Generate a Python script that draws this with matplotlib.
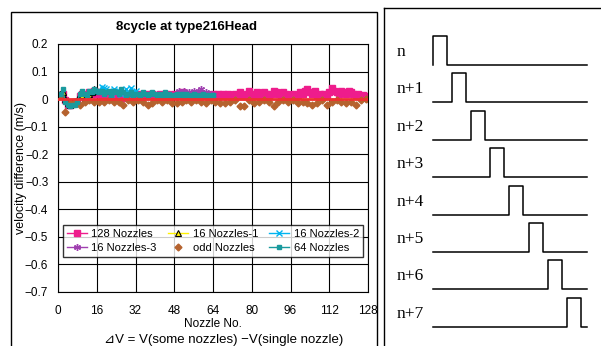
import numpy as np
import matplotlib
matplotlib.use("Agg")
import matplotlib.pyplot as plt
from matplotlib.patches import Rectangle

plt.rcParams['font.family'] = ['Liberation Sans', 'DejaVu Sans', 'Noto Sans CJK JP']

# データ
v128 = [0.015, 0.02, -0.005, -0.02, -0.02, -0.015, -0.01, -0.01,
        0.01, 0.02, 0.015, 0.01, 0.025, 0.02, 0.03, 0.025,
        0.02, 0.015, 0.01, 0.02, 0.01, 0.005, 0.015, 0.01,
        0.02, 0.01, 0.005, 0.015, 0.01, 0.02, 0.01, 0.015,
        0.01, 0.02, 0.015, 0.01, 0.02, 0.015, 0.02, 0.01,
        0.015, 0.02, 0.01, 0.015, 0.02, 0.015, 0.01, 0.02,
        0.015, 0.02, 0.025, 0.015, 0.02, 0.01, 0.02, 0.015,
        0.02, 0.015, 0.01, 0.02, 0.015, 0.01, 0.015, 0.02,
        0.015, 0.02, 0.01, 0.02, 0.015, 0.02, 0.01, 0.015,
        0.02, 0.015, 0.025, 0.01, 0.015, 0.02, 0.03, 0.02,
        0.015, 0.025, 0.02, 0.01, 0.025, 0.02, 0.015, 0.02,
        0.03, 0.025, 0.02, 0.015, 0.025, 0.02, 0.01, 0.015,
        0.02, 0.01, 0.015, 0.025, 0.02, 0.03, 0.035, 0.025,
        0.02, 0.03, 0.015, 0.02, 0.01, 0.02, 0.015, 0.025,
        0.04, 0.03, 0.025, 0.02, 0.03, 0.025, 0.02, 0.03,
        0.025, 0.02, 0.015, 0.02, 0.01, 0.015, 0.01, 0.005]
x128 = np.arange(1, 129)

v16_1 = [0.02, 0.025, 0.0, -0.015, -0.02, -0.01, -0.015, -0.005,
         0.02, 0.015, 0.005, 0.01, 0.02, 0.025, 0.035, 0.03]
x16_1 = np.arange(1, 17)

v16_2 = [0.03, 0.045, 0.04, 0.035, 0.03, 0.02, 0.035, 0.025,
         0.03, 0.02, 0.025, 0.035, 0.02, 0.04, 0.025, 0.03]
x16_2 = np.arange(17, 33)

v16_3 = [0.02, 0.03, 0.025, 0.03, 0.02, 0.025, 0.015, 0.03,
         0.02, 0.025, 0.035, 0.02, 0.025, 0.015, 0.02, 0.015]
x16_3 = np.arange(49, 65)

v_odd = [0.01, -0.045, -0.015, -0.01, -0.02, -0.01, -0.005, -0.01,
         -0.01, -0.01, -0.005, -0.01, -0.01, -0.02, -0.005, -0.01,
         -0.005, -0.01, -0.02, -0.015, -0.005, -0.01, -0.005, -0.015,
         -0.015, -0.01, -0.005, -0.01, -0.005, -0.01, -0.015, -0.005,
         -0.01, -0.015, -0.015, -0.01, -0.005, -0.025, -0.025, -0.005,
         -0.015, -0.01, -0.005, -0.01, -0.025, -0.01, -0.005, -0.01,
         -0.005, -0.015, -0.01, -0.015, -0.02, -0.015, -0.005, -0.02,
         -0.01, -0.005, -0.01, -0.015, -0.01, -0.02, -0.005, 0.0]
x_odd = np.arange(1, 129, 2)

v64 = [0.02, 0.035, -0.01, -0.02, -0.025, -0.02, -0.02, -0.01,
       0.02, 0.03, 0.02, 0.015, 0.03, 0.025, 0.035, 0.03,
       0.025, 0.03, 0.02, 0.025, 0.03, 0.015, 0.03, 0.025,
       0.02, 0.035, 0.025, 0.015, 0.02, 0.025, 0.015, 0.02,
       0.02, 0.015, 0.025, 0.02, 0.015, 0.02, 0.025, 0.02,
       0.015, 0.02, 0.01, 0.025, 0.015, 0.02, 0.01, 0.015,
       0.02, 0.015, 0.02, 0.01, 0.02, 0.015, 0.01, 0.02,
       0.015, 0.01, 0.015, 0.02, 0.01, 0.015, 0.01, 0.015]
x64 = np.arange(1, 65)

yticks = [-0.7, -0.6, -0.5, -0.4, -0.3, -0.2, -0.1, 0, 0.1, 0.2]
ytick_labels = ["\u22120.7", "\u22120.6", "\u22120.5", "\u22120.4", "\u22120.3",
                "\u22120.2", "\u22120.1", "0", "0.1", "0.2"]
pulse_labels = ["n", "n+1", "n+2", "n+3", "n+4", "n+5", "n+6", "n+7"]

fig = plt.figure(figsize=(6.01, 3.46), dpi=100)

# 外枠
fig.patches.append(Rectangle((11 / 601, -0.05), 366 / 601, 1.05 - 12 / 346,
                             transform=fig.transFigure, fill=False,
                             edgecolor='black', lw=1.0))

ax = fig.add_axes([58 / 601, 1 - 292 / 346, 310 / 601, 248 / 346])
l128, = ax.plot(x128, v128, color='#EE1C8C', marker='s', ms=4, lw=1, label='128 Nozzles')
l1, = ax.plot(x16_1, v16_1, color='#FFF200', marker='^', ms=4, mfc='#FFF200',
              mec='black', mew=0.8, lw=1, label='16 Nozzles-1')
l2, = ax.plot(x16_2, v16_2, color='#00B4F0', marker='x', ms=4.5, mew=1, lw=1, label='16 Nozzles-2')
l3, = ax.plot(x16_3, v16_3, color='#A040B0', marker=(6, 2, 0), ms=5, mew=1, lw=1, label='16 Nozzles-3')
lodd, = ax.plot(x_odd, v_odd, color='#B5622E', marker='D', ms=3.5, lw=0, label='odd Nozzles')
l64, = ax.plot(x64, v64, color='#1A9A9E', marker='s', ms=3.5, lw=1, label='64 Nozzles')
ax.axhline(0, color='#F03030', lw=2, zorder=5)

ax.set_xlim(0, 128)
ax.set_ylim(-0.7, 0.2)
ax.set_xticks(np.arange(0, 129, 16))
ax.set_yticks(yticks)
ax.set_yticklabels(ytick_labels)
ax.tick_params(length=0, labelsize=8.5)
ax.tick_params(axis='y', pad=7)
ax.tick_params(axis='x', pad=9)
ax.grid(True, color='black', lw=0.8)
for s in ax.spines.values():
    s.set_linewidth(0.8)
ax.set_xlabel("Nozzle No.", fontsize=8.5, labelpad=1)
ax.set_ylabel("velocity difference (m/s)", fontsize=9)
ax.yaxis.set_label_coords(-0.1, 0.5)

# 凡例 (行ごとの並び)
handles = [l128, l3, l1, lodd, l2, l64]
leg = ax.legend(handles=handles, labels=[h.get_label() for h in handles],
                ncol=3, loc='lower left', mode='expand',
                bbox_to_anchor=(0.016, 0.141, 0.968, 0.145),
                fontsize=8, frameon=True, fancybox=False, edgecolor='black',
                handlelength=1.8, handletextpad=0.4, borderpad=0.35,
                labelspacing=0.35, columnspacing=0.5, borderaxespad=0)
leg.get_frame().set_linewidth(1.0)

fig.text(187 / 601, 1 - 27 / 346, "8cycle at type216Head", fontsize=9.5,
         fontweight='bold', ha='center', va='center')
fig.text(224 / 601, 1 - 340 / 346, "\u22bfV = V(some nozzles) \u2212V(single nozzle)",
         fontsize=9.5, ha='center', va='center')

# 右のパルス図
ax2 = fig.add_axes([384 / 601, 0, 217 / 601, 1 - 8 / 346])
ax2.set_xlim(384, 601)
ax2.set_ylim(346, 8)
ax2.set_xticks([])
ax2.set_yticks([])
ax2.spines['right'].set_visible(False)
ax2.spines['bottom'].set_visible(False)
ax2.spines['left'].set_linewidth(1.0)
ax2.spines['top'].set_linewidth(1.0)

for k, lab in enumerate(pulse_labels):
    base = 65 + 37.4 * k
    rise = 433 + 19.1 * k
    fall = rise + 14
    xs = [433, rise, rise, fall, fall, 587]
    ys = [base, base, base - 29, base - 29, base, base]
    ax2.plot(xs, ys, color='black', lw=1.1)
    ax2.text(397, base - 13, lab, fontsize=12.5, family='Liberation Serif',
             ha='left', va='center')

fig.savefig("out.png", dpi=100)
